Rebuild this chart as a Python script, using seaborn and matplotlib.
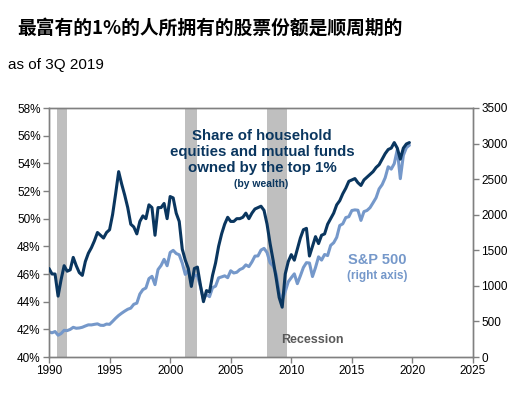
import numpy as np
import pandas as pd
import matplotlib
matplotlib.use("Agg")
import matplotlib.pyplot as plt
import seaborn as sns

# quarter-end positions, 4Q1989 .. 3Q2019
quarters = np.arange(1990.0, 2019.76, 0.25)

# share of household equities & mutual funds held by top 1% (%, left axis)
top1_share = [
    46.4, 46.0, 46.0, 44.4, 45.6, 46.6, 46.2, 46.3, 47.2, 46.6, 46.1, 45.9,
    46.9, 47.5, 47.9, 48.4, 49.0, 48.8, 48.6, 49.0, 49.2, 50.3, 51.8, 53.4,
    52.5, 51.7, 50.8, 49.6, 49.4, 48.9, 49.8, 50.2, 50.0, 51.0, 50.8, 48.8,
    50.8, 50.8, 51.1, 50.0, 51.6, 51.5, 50.4, 49.8, 47.8, 47.0, 46.4, 45.1,
    46.4, 46.5, 45.2, 44.0, 44.8, 44.7, 45.9, 46.8, 48.0, 48.9, 49.6, 50.1,
    49.8, 49.8, 50.0, 50.0, 50.1, 50.4, 50.0, 50.4, 50.7, 50.8, 50.9, 50.6,
    49.6, 48.2, 47.0, 45.7, 44.3, 43.6, 46.0, 46.9, 47.4, 47.0, 47.8, 48.6,
    49.2, 49.3, 47.3, 48.0, 48.7, 48.2, 48.8, 48.9, 49.6, 50.0, 50.4, 51.0,
    51.3, 51.8, 52.2, 52.7, 52.8, 52.9, 52.6, 52.4, 52.8, 53.0, 53.2, 53.4,
    53.7, 53.9, 54.3, 54.7, 55.0, 55.1, 55.5, 55.1, 54.3, 55.1, 55.4, 55.5,
]

# S&P 500 (right axis)
sp500 = [
    353, 340, 358, 306, 330, 375, 371, 388, 417, 404, 408, 418,
    436, 452, 451, 459, 466, 446, 444, 463, 459, 501, 545, 584,
    616, 645, 671, 687, 741, 757, 885, 947, 970, 1102, 1134, 1017,
    1229, 1286, 1373, 1283, 1469, 1499, 1455, 1436, 1320, 1160, 1224, 1041,
    1148, 1147, 990, 815, 880, 848, 975, 996, 1112, 1126, 1141, 1115,
    1212, 1181, 1191, 1229, 1248, 1295, 1270, 1336, 1418, 1421, 1503, 1527,
    1468, 1323, 1280, 1166, 903, 798, 919, 1057, 1115, 1169, 1031, 1141,
    1258, 1326, 1321, 1131, 1258, 1408, 1362, 1441, 1426, 1569, 1606, 1682,
    1848, 1872, 1960, 1972, 2059, 2068, 2063, 1920, 2044, 2060, 2099, 2168,
    2239, 2363, 2423, 2519, 2674, 2641, 2718, 2914, 2507, 2834, 2942, 2977,
]

recessions = [(1990.7, 1991.45), (2001.2, 2002.2), (2008.0, 2009.65)]

x_ticks = [1990, 1995, 2000, 2005, 2010, 2015, 2020, 2025]
left_ticks = [40, 42, 44, 46, 48, 50, 52, 54, 56, 58]
right_ticks = [0, 500, 1000, 1500, 2000, 2500, 3000, 3500]

dark = "#0A365F"
light = "#7598CA"
band = "#BFBFBF"
spine_c = "#808080"

df = pd.DataFrame({"year": quarters, "share": top1_share, "spx": sp500})

sns.set_style("white")
plt.rcParams["font.family"] = ["Liberation Sans", "DejaVu Sans"]

fig = plt.figure(figsize=(5.22, 3.95), dpi=100)
ax = fig.add_axes([49 / 522, 1 - 357 / 395, 424 / 522, 249 / 395])
ax2 = ax.twinx()
# dark line on top of the light one
ax.set_zorder(ax2.get_zorder() + 1)
ax.patch.set_visible(False)

for a, b in recessions:
    ax2.axvspan(a, b, color=band, lw=0, zorder=0)

sns.lineplot(data=df, x="year", y="spx", ax=ax2, color=light, lw=2.2, zorder=2)
sns.lineplot(data=df, x="year", y="share", ax=ax, color=dark, lw=2.2, zorder=3)

ax.set_xlim(1990, 2025)
ax.set_ylim(40, 58)
ax2.set_ylim(0, 3500)
ax.set_xticks(x_ticks)
ax.set_yticks(left_ticks)
ax.set_yticklabels([f"{t}%" for t in left_ticks])
ax2.set_yticks(right_ticks)
ax.set_xlabel("")
ax.set_ylabel("")
ax2.set_ylabel("")

for a_ in (ax, ax2):
    for s in a_.spines.values():
        s.set_color(spine_c)
        s.set_linewidth(1)
    a_.tick_params(axis="both", direction="out", length=4, width=1, color=spine_c,
                   labelsize=8.5, labelcolor="black", pad=2)
ax.tick_params(axis="y", left=True, right=False)
ax.tick_params(axis="x", bottom=True)
ax2.tick_params(axis="y", right=True, left=False)

ax.text(2007.58, 54.82, "Share of household\nequities and mutual funds\nowned by the top 1%",
        ha="center", va="center", fontsize=10.8, fontweight="bold", color=dark,
        linespacing=1.2, zorder=5)
ax.text(2007.55, 52.5, "(by wealth)", ha="center", va="center", fontsize=7.5,
        fontweight="bold", color=dark, zorder=5)
ax.text(2017.08, 47.0, "S&P 500", ha="center", va="center", fontsize=10.5,
        fontweight="bold", color=light, zorder=5)
ax.text(2017.08, 45.86, "(right axis)", ha="center", va="center", fontsize=8.5,
        fontweight="bold", color=light, zorder=5)
ax.text(2009.15, 41.23, "Recession", ha="left", va="center", fontsize=9,
        fontweight="bold", color="#595959", zorder=5)

fig.text(17 / 522, 1 - 28 / 395, "最富有的1%的人所拥有的股票份额是顺周期的",
         family=["Noto Sans CJK SC", "DejaVu Sans"], fontweight="bold",
         fontsize=13.5, color="black", va="center", ha="left")
fig.text(8 / 522, 1 - 65 / 395, "as of 3Q 2019",
         family=["Liberation Sans Narrow", "Liberation Sans", "DejaVu Sans"],
         fontsize=11, color="black", va="center", ha="left")

fig.savefig("out.png", dpi=100)
